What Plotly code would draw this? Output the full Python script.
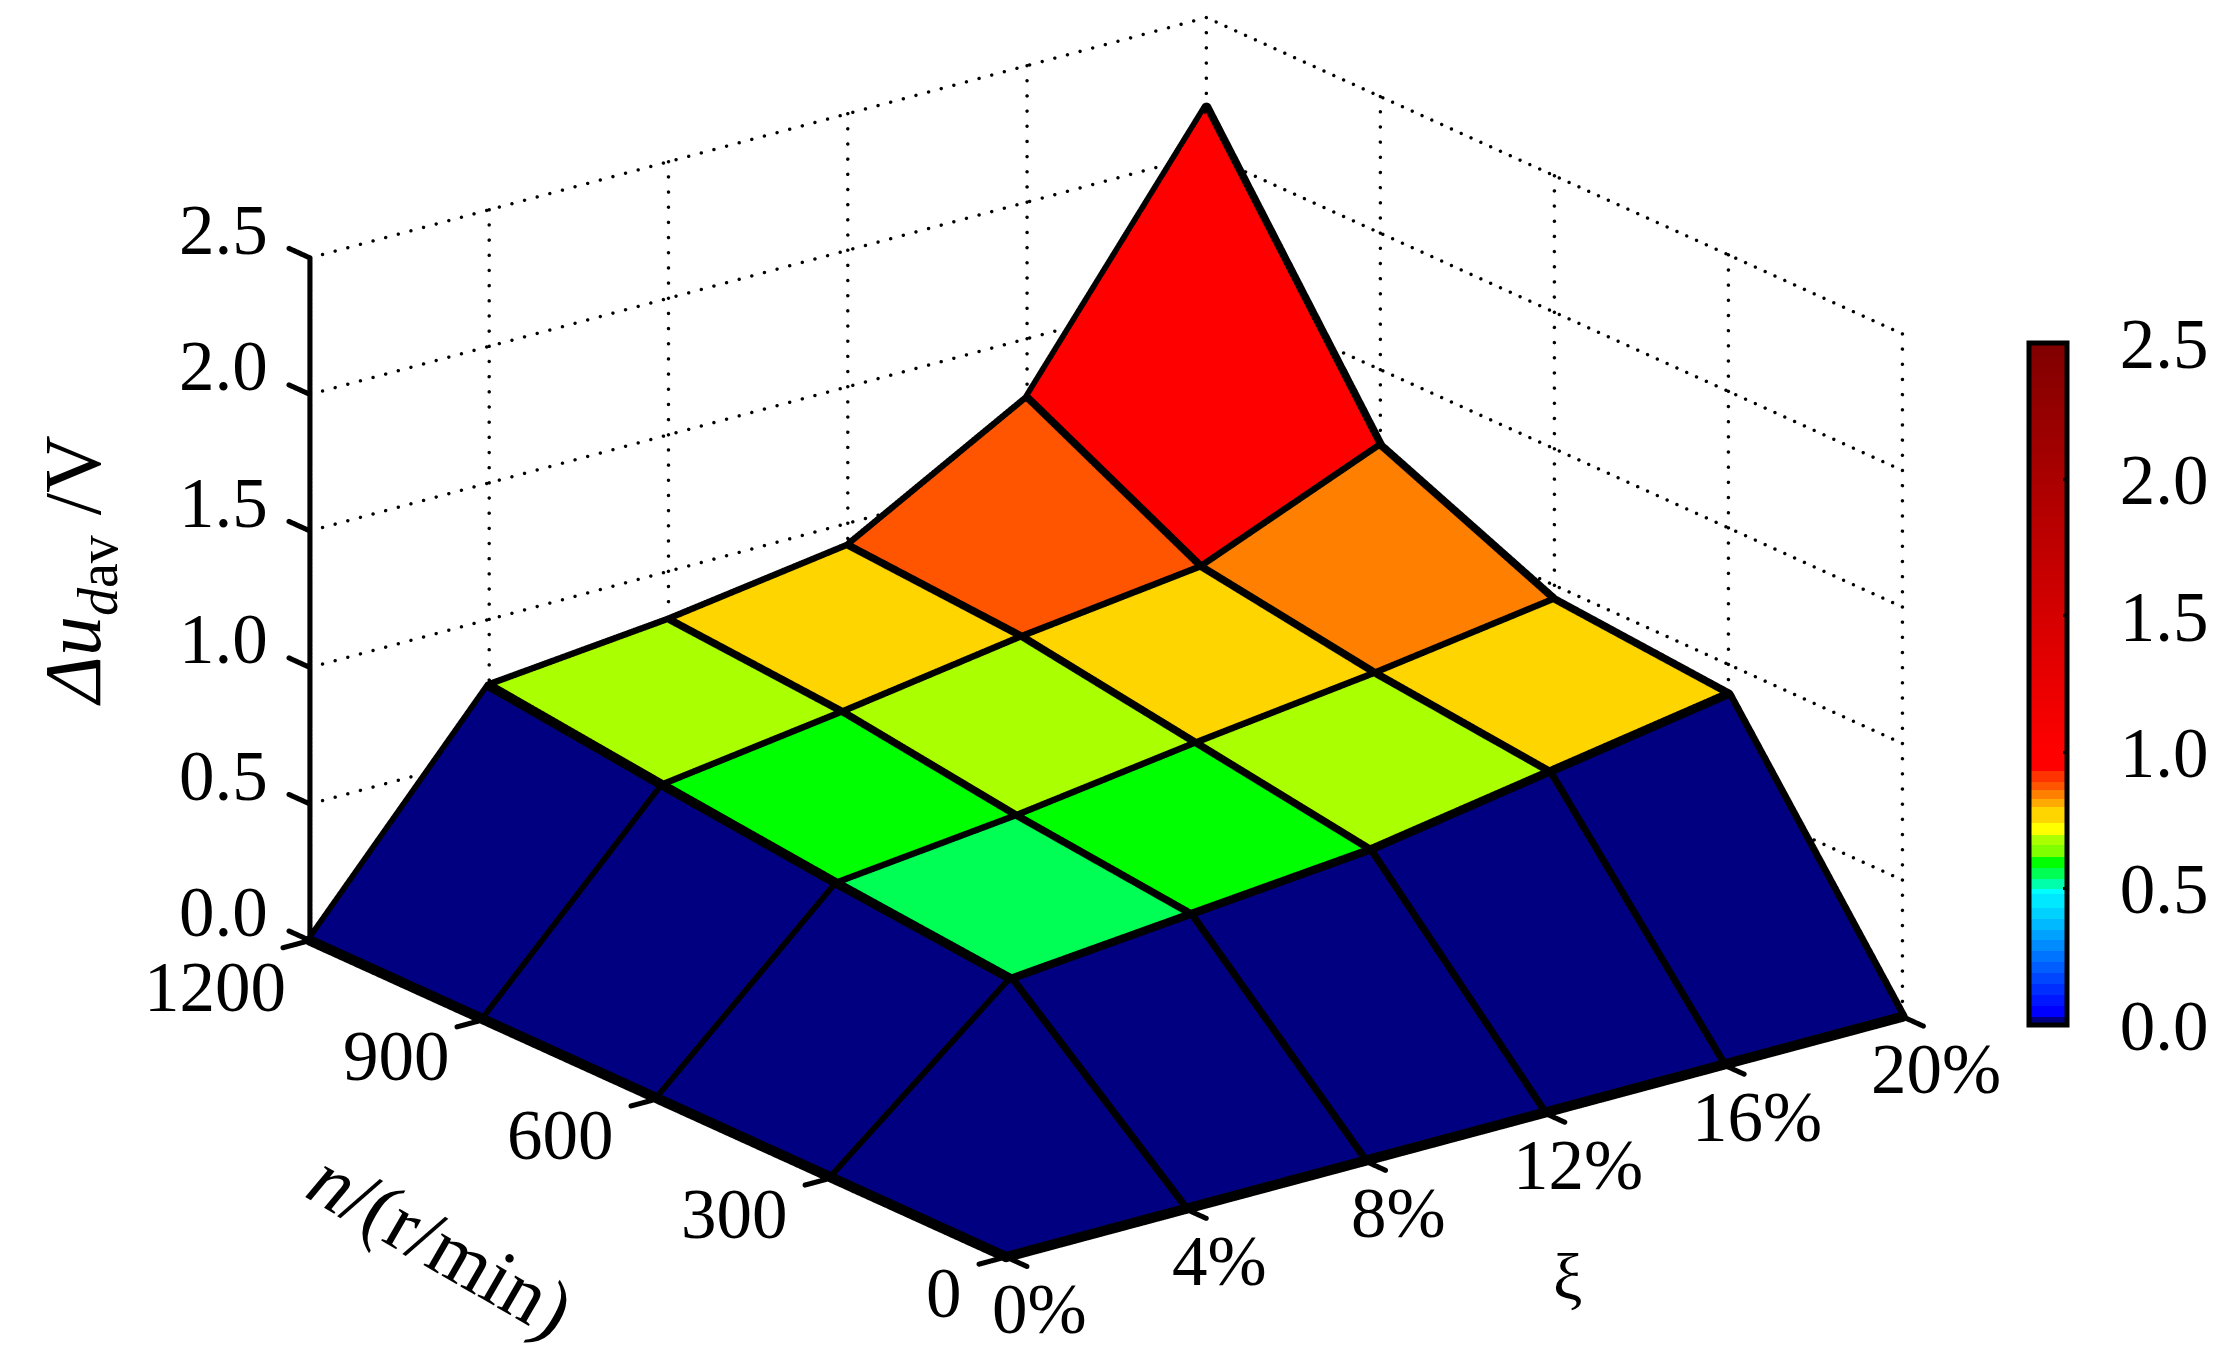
import numpy as np
import plotly.graph_objects as go

FONT = "Liberation Serif"
xi_values = [0, 4, 8, 12, 16, 20]
n_values = [0, 300, 600, 900, 1200]
z_ticks = [0.0, 0.5, 1.0, 1.5, 2.0, 2.5]
# rows: n = 0, 300, 600, 900, 1200 ; columns: xi = 0..20 %
z_row_0 = [0, 0, 0, 0, 0, 0]
z_row_300 = [0, 0.55, 0.61, 0.67, 0.78, 0.89]
z_row_600 = [0, 0.61, 0.68, 0.77, 0.85, 0.945]
z_row_900 = [0, 0.68, 0.77, 0.87, 0.95, 1.22]
z_row_1200 = [0, 0.756, 0.82, 0.915, 1.28, 2.17]
Z = [z_row_0, z_row_300, z_row_600, z_row_900, z_row_1200]

band_edges = [0, .03, .07, .11, .15, .19, .23, .27, .31, .35, .39, .43, .48, .50, .535, .575, .615, .66, .695, .74, .80, .83, .86, .89, .93, 1.0]
band_colors = ["#000080", "#0000ff", "#0017ff", "#002eff", "#0046ff", "#005dff", "#0074ff", "#008bff", "#00a2ff", "#00b9ff", "#00d1ff", "#00e8ff",
               "#00ffff", "#00ffaa", "#00ff55", "#00ff00", "#80ff00", "#aaff00", "#ffff00", "#ffd500", "#ffaa00", "#ff8000", "#ff5500", "#ff3300", "#ff0000"]
Z_MAX = 2.5
colorscale = []
for k, c in enumerate(band_colors):
    colorscale.append([band_edges[k] / Z_MAX, c])
    colorscale.append([band_edges[k + 1] / Z_MAX, c])
colorscale.append([1.0, "#800000"])

nx, ny = len(xi_values), len(n_values)
vx, vy, vz = [], [], []
for j in range(ny):
    for i in range(nx):
        vx.append(xi_values[i]); vy.append(n_values[j]); vz.append(Z[j][i])
fi, fj, fk, cell = [], [], [], []
for j in range(ny - 1):
    for i in range(nx - 1):
        a = j * nx + i; b = a + 1; c = a + nx; d = c + 1
        fi += [a, a]; fj += [b, d]; fk += [d, c]
        cell += [Z[j][i], Z[j][i]]

fig = go.Figure()
fig.add_trace(go.Mesh3d(
    x=vx, y=vy, z=vz, i=fi, j=fj, k=fk, intensity=cell, intensitymode="cell",
    colorscale=colorscale, cmin=0, cmax=Z_MAX, flatshading=True,
    lighting=dict(ambient=1, diffuse=0, specular=0, roughness=1, fresnel=0),
    hoverinfo="skip",
    colorbar=dict(x=2021 / 2229, xref="container", xanchor="left", y=1 - 676 / 1349, yref="container", yanchor="middle",
                  len=682, lenmode="pixels", thickness=38, thicknessmode="pixels", outlinewidth=5, outlinecolor="black",
                  tickvals=z_ticks, ticktext=[f"\u00a0\u00a0{t:.1f}" for t in z_ticks], ticks="inside", ticklen=6, tickwidth=3, tickcolor="black",
                  tickfont=dict(family=FONT, size=71, color="black"), ypad=0, xpad=0),
))


def stroke(segments, per_unit, size):
    """Draw thick strokes (WebGL lines are limited to 1px) as a dense run of round markers."""
    px, py, pz = [], [], []
    for p, q in segments:
        span = np.hypot((q[0] - p[0]) / 20 * 800, np.hypot((q[1] - p[1]) / 1200 * 800, (q[2] - p[2]) / 2.5 * 512))
        s = np.linspace(0, 1, max(2, int(span * per_unit)))
        px += list(p[0] + (q[0] - p[0]) * s)
        py += list(p[1] + (q[1] - p[1]) * s)
        pz += list(p[2] + (q[2] - p[2]) * s)
    return go.Scatter3d(x=px, y=py, z=pz, mode="markers", marker=dict(color="black", size=size, line=dict(width=0)),
                        hoverinfo="skip", showlegend=False)


wire = []
for j in range(ny):
    for i in range(nx - 1):
        wire.append(((xi_values[i], n_values[j], Z[j][i]), (xi_values[i + 1], n_values[j], Z[j][i + 1])))
for i in range(nx):
    for j in range(ny - 1):
        wire.append(((xi_values[i], n_values[j], Z[j][i]), (xi_values[i], n_values[j + 1], Z[j + 1][i])))
fig.add_trace(stroke(wire, 1.0, 6))

xmax, ymax, zmax = xi_values[-1], n_values[-1], z_ticks[-1]
ticks = [((0, ymax, 0), (0, ymax, zmax))]
for t in z_ticks:
    ticks.append(((0, ymax, t), (0, ymax + 36, t)))
for v in n_values:
    ticks.append(((0, v, 0), (-0.6, v, 0)))
for v in xi_values:
    ticks.append(((v, 0, 0), (v, -36, 0)))
fig.add_trace(stroke(ticks, 1.0, 3))

grid = []
for t in z_ticks:
    grid.append(((0, ymax, t), (xmax, ymax, t)))
    grid.append(((xmax, ymax, t), (xmax, 0, t)))
for x in xi_values[1:]:
    grid.append(((x, ymax, 0), (x, ymax, zmax)))
for y in n_values:
    grid.append(((xmax, y, 0), (xmax, y, zmax)))
fig.add_trace(stroke(grid, 0.09, 2))

axis_common = dict(showbackground=False, showgrid=False, zeroline=False, showspikes=False, showline=False,
                   ticks="", showticklabels=False, title=dict(text=""))
tick_font = dict(family=FONT, size=71, color="black")
scene_notes = []
for t in z_ticks:
    scene_notes.append(dict(x=0, y=ymax, z=t, text=f"{t:.1f}", showarrow=False, xshift=-86, yshift=28, font=tick_font))
n_xshift = {1200: -22, 900: -32}
n_yshift = {1200: -47}
for v in n_values:
    scene_notes.append(dict(x=0, y=v, z=0, text=str(v), showarrow=False, xanchor="right",
                            xshift=n_xshift.get(v, -42), yshift=n_yshift.get(v, -36), font=tick_font))
for v in xi_values:
    scene_notes.append(dict(x=v, y=0, z=0, text=f"{v}%", showarrow=False, xshift=34, yshift=-52, font=tick_font))

ASPECT_X = 1.726
ASPECT_Y = 1.796
ASPECT_Z = 1.08
VIEW_DIR = np.array([-0.609 * 0.937, -0.793 * 0.937, 0.349])
CENTER = np.array([0.035, -0.027, -0.066])
EYE = VIEW_DIR * 1.8 + CENTER
fig.update_layout(
    width=2229, height=1349, autosize=False, margin=dict(l=0, r=0, t=0, b=0, autoexpand=False),
    paper_bgcolor="white", showlegend=False,
    scene=dict(
        domain=dict(x=[0, 1], y=[0, 1]),
        aspectmode="manual", aspectratio=dict(x=ASPECT_X, y=ASPECT_Y, z=ASPECT_Z),
        camera=dict(projection=dict(type="orthographic"), eye=dict(x=EYE[0], y=EYE[1], z=EYE[2]),
                    center=dict(x=CENTER[0], y=CENTER[1], z=CENTER[2]), up=dict(x=0, y=0, z=1)),
        xaxis=dict(range=[-0.6, 20], tickvals=xi_values, **axis_common),
        yaxis=dict(range=[-36, 1236], tickvals=n_values, **axis_common),
        zaxis=dict(range=[0, 2.5], tickvals=z_ticks, **axis_common),
        annotations=scene_notes,
    ),
    annotations=[
        dict(text="<i>Δu<sub>d</sub></i><sub>av</sub> /V", x=71 / 2229, y=1 - 563 / 1349, xref="paper", yref="paper", showarrow=False, textangle=-90,
             xanchor="center", yanchor="middle", font=dict(family=FONT, size=80, color="black")),
        dict(text="<i>n</i>/(r/min)", x=433 / 2229, y=1 - 1236 / 1349, xref="paper", yref="paper", showarrow=False, textangle=30,
             xanchor="center", yanchor="middle", font=dict(family=FONT, size=80, color="black")),
        dict(text="ξ", x=1559 / 2229, y=1 - 1268 / 1349, xref="paper", yref="paper", showarrow=False,
             xanchor="center", yanchor="middle", font=dict(family=FONT, size=66, color="black")),
    ],
)
fig.write_html("out.html")
